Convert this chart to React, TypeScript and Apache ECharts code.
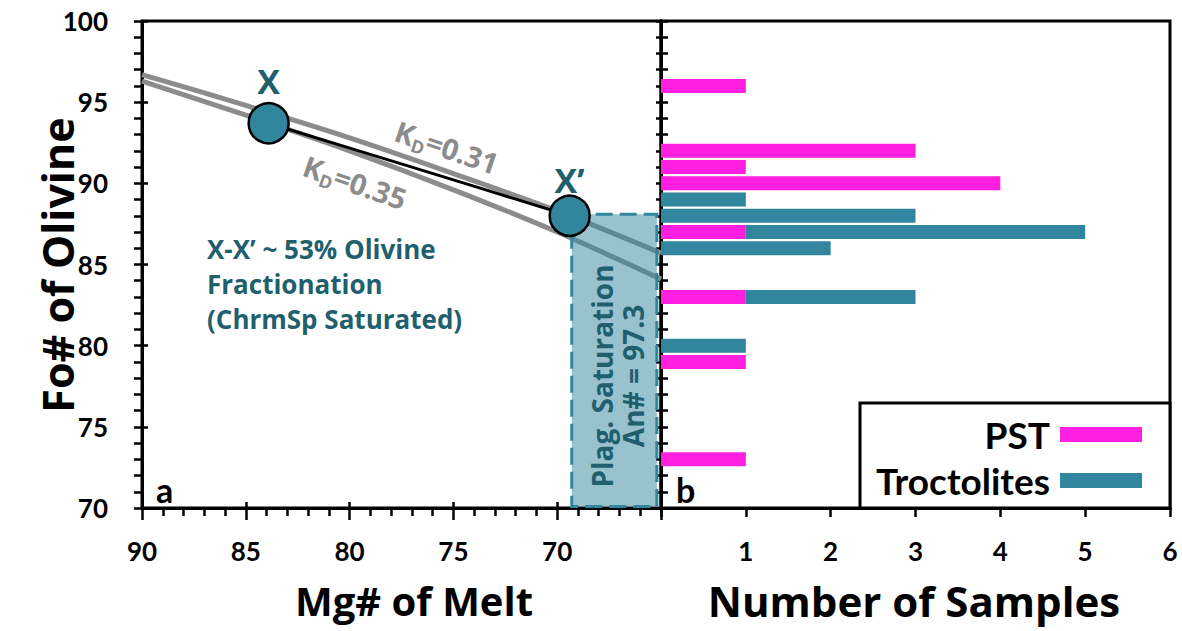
import React, { useEffect, useRef } from "react";
import * as echarts from "echarts";

// ---- data ----
const kd031Mg = [90, 85, 80, 75, 70, 65];
const kd031Fo = [96.7, 94.8, 92.8, 90.6, 88.3, 85.7];
const kd035Mg = [90, 85, 80, 75, 70, 65];
const kd035Fo = [96.3, 94.2, 92.0, 89.6, 87.0, 84.1];

const pathMg = [83.9, 77.0, 69.4];
const pathFo = [93.7, 91.0, 88.0];

const pointNames = ["X", "X\u2019"];
const pointMg = [83.9, 69.4];
const pointFo = [93.7, 88.0];

const plagMg = [69.3, 65.2];
const plagFo = [88.1, 70.1];

const foCategories = [
  "70", "71", "72", "73", "74", "75", "76", "77", "78", "79", "80",
  "81", "82", "83", "84", "85", "86", "87", "88", "89", "90",
  "91", "92", "93", "94", "95", "96", "97", "98", "99", "100",
];
const pstBins = [96, 92, 91, 90, 87, 83, 79, 73];
const pstCounts = [1, 3, 1, 4, 1, 1, 1, 1];
const trocBins = [89, 88, 87, 86, 83, 80];
const trocCounts = [1, 3, 4, 2, 2, 1];

const PINK = "#FF1FE0";
const TEAL = "#31859C";
const DARK_TEAL = "#1F5F6E";
const GREY = "#8C8C8C";

const TICK_FONT = "Lato";
const TITLE_FONT = "Open Sans";

function toCounts(bins: number[], counts: number[]) {
  return foCategories.map((c) => {
    const i = bins.indexOf(Number(c));
    return i >= 0 ? counts[i] : "-";
  });
}

export default function App() {
  const ref = useRef<HTMLDivElement>(null);

  useEffect(() => {
    if (!ref.current) return;
    const chart = echarts.init(ref.current, null, { renderer: "svg" });

    const axisLineStyle = { color: "#000", width: 3 };
    const tickStyle = { color: "#000", width: 2.5 };
    const labelStyle = {
      fontFamily: TICK_FONT,
      fontWeight: "bold" as const,
      fontSize: 26,
      color: "#000",
    };
    const kdRich = {
      k: { fontFamily: TITLE_FONT, fontWeight: "bold", fontSize: 29, fill: GREY, lineHeight: 36 },
      d: { fontFamily: TITLE_FONT, fontWeight: "bold", fontSize: 18, fill: GREY, lineHeight: 18, verticalAlign: "bottom" },
    };

    const option: any = {
      animation: false,
      backgroundColor: "#fff",
      grid: [
        { left: 142, top: 21, width: 519, height: 487, show: true, borderColor: "#000", borderWidth: 3 },
        { left: 661, top: 21, width: 509, height: 487, show: true, borderColor: "#000", borderWidth: 3 },
      ],
      xAxis: [
        {
          gridIndex: 0, type: "value", min: 65, max: 90, interval: 5, inverse: true,
          position: "bottom",
          axisLine: { show: true, lineStyle: axisLineStyle },
          axisTick: { show: true, length: 12, lineStyle: tickStyle },
          minorTick: { show: true, splitNumber: 5, length: 8, lineStyle: tickStyle },
          splitLine: { show: false },
          axisLabel: { ...labelStyle, margin: 30, formatter: (v: number) => (v === 65 ? "" : String(v)) },
        },
        {
          gridIndex: 0, type: "value", min: 65, max: 90, interval: 5, inverse: true,
          position: "bottom",
          axisLine: { show: false },
          axisTick: { show: true, inside: true, length: 6, lineStyle: tickStyle },
          splitLine: { show: false },
          axisLabel: { show: false },
        },
        {
          gridIndex: 1, type: "value", min: 0, max: 6, interval: 1,
          position: "bottom",
          axisLine: { show: true, lineStyle: axisLineStyle },
          axisTick: { show: true, length: 9, lineStyle: tickStyle },
          splitLine: { show: false },
          axisLabel: { ...labelStyle, margin: 30, formatter: (v: number) => (v === 0 ? "" : String(v)) },
        },
      ],
      yAxis: [
        {
          gridIndex: 0, type: "value", min: 70, max: 100, interval: 5, position: "left",
          axisLine: { show: true, lineStyle: axisLineStyle },
          axisTick: { show: true, length: 8, lineStyle: tickStyle },
          minorTick: { show: true, splitNumber: 5, length: 8, lineStyle: tickStyle },
          splitLine: { show: false },
          axisLabel: { ...labelStyle, margin: 34 },
        },
        {
          gridIndex: 0, type: "value", min: 70, max: 100, interval: 5, position: "left",
          axisLine: { show: false },
          axisTick: { show: true, inside: true, length: 6, lineStyle: tickStyle },
          splitLine: { show: false },
          axisLabel: { show: false },
        },
        {
          gridIndex: 1, type: "value", min: 70, max: 100, interval: 5, position: "left",
          axisLine: { show: true, lineStyle: axisLineStyle },
          axisTick: { show: true, inside: true, length: 7, lineStyle: tickStyle },
          minorTick: { show: true, splitNumber: 5, length: 7, lineStyle: tickStyle },
          splitLine: { show: false },
          axisLabel: { show: false },
        },
        {
          gridIndex: 1, type: "value", min: 70, max: 100, interval: 5, position: "left",
          axisLine: { show: false },
          axisTick: { show: true, inside: false, length: 5, lineStyle: tickStyle },
          minorTick: { show: true, splitNumber: 5, length: 5, lineStyle: tickStyle },
          splitLine: { show: false },
          axisLabel: { show: false },
        },
        {
          gridIndex: 1, type: "category", data: foCategories, boundaryGap: false, show: false,
        },
      ],
      series: [
        {
          name: "KD=0.31", type: "line", xAxisIndex: 0, yAxisIndex: 0, z: 2, silent: true,
          data: kd031Mg.map((m, i) => [m, kd031Fo[i]]),
          smooth: 0.3, symbol: "none",
          lineStyle: { color: GREY, width: 5 },
        },
        {
          name: "KD=0.35", type: "line", xAxisIndex: 0, yAxisIndex: 0, z: 2, silent: true,
          data: kd035Mg.map((m, i) => [m, kd035Fo[i]]),
          smooth: 0.3, symbol: "none",
          lineStyle: { color: GREY, width: 5 },
        },
        {
          name: "Plag. Saturation", type: "custom", xAxisIndex: 0, yAxisIndex: 0, z: 3, silent: true,
          clip: false,
          data: [[plagMg[0], plagFo[0], plagMg[1], plagFo[1]]],
          renderItem: (_p: any, api: any) => {
            const a = api.coord([api.value(0), api.value(1)]);
            const b = api.coord([api.value(2), api.value(3)]);
            return {
              type: "rect",
              shape: {
                x: Math.min(a[0], b[0]), y: Math.min(a[1], b[1]),
                width: Math.abs(b[0] - a[0]), height: Math.abs(b[1] - a[1]),
              },
              style: { fill: "rgba(49,133,156,0.5)", stroke: TEAL, lineWidth: 3, lineDash: [17, 7] },
            };
          },
        },
        {
          name: "X-X\u2019", type: "line", xAxisIndex: 0, yAxisIndex: 0, z: 4, silent: true,
          data: pathMg.map((m, i) => [m, pathFo[i]]),
          smooth: 0.3, symbol: "none",
          lineStyle: { color: "#000", width: 3 },
        },
        {
          name: "Points", type: "scatter", xAxisIndex: 0, yAxisIndex: 0, z: 5, silent: true,
          symbolSize: 40,
          itemStyle: { color: TEAL, borderColor: "#000", borderWidth: 2.5, opacity: 1 },
          label: {
            show: true, position: "top", formatter: "{b}",
            fontFamily: TITLE_FONT, fontWeight: "bold", fontSize: 34, color: DARK_TEAL,
          },
          data: pointNames.map((n, i) => ({
            name: n,
            value: [pointMg[i], pointFo[i]],
            label: { distance: i === 0 ? 4 : -2 },
          })),
        },
        {
          name: "PST", type: "bar", xAxisIndex: 2, yAxisIndex: 4, stack: "n", barWidth: 14,
          itemStyle: { color: PINK }, data: toCounts(pstBins, pstCounts), silent: true,
        },
        {
          name: "Troctolites", type: "bar", xAxisIndex: 2, yAxisIndex: 4, stack: "n", barWidth: 14,
          itemStyle: { color: TEAL }, data: toCounts(trocBins, trocCounts), silent: true,
        },
      ],
      graphic: [
        {
          type: "text", x: 57, y: 265, rotation: Math.PI / 2, z: 10,
          style: {
            text: "Fo# of Olivine", x: 0, y: 0, align: "center", verticalAlign: "middle",
            fontFamily: TITLE_FONT, fontWeight: "bold", fontSize: 43, fill: "#000",
          },
        },
        {
          type: "text", x: 414, y: 600, z: 10,
          style: {
            text: "Mg# of Melt", align: "center", verticalAlign: "middle",
            fontFamily: TITLE_FONT, fontWeight: "bold", fontSize: 40, fill: "#000",
          },
        },
        {
          type: "text", x: 914, y: 600, z: 10,
          style: {
            text: "Number of Samples", align: "center", verticalAlign: "middle",
            fontFamily: TITLE_FONT, fontWeight: "bold", fontSize: 42, fill: "#000",
          },
        },
        {
          type: "text", x: 156, y: 489, z: 10,
          style: { text: "a", verticalAlign: "middle", fontFamily: TICK_FONT, fontWeight: "bold", fontSize: 34, fill: "#000" },
        },
        {
          type: "text", x: 676, y: 489, z: 10,
          style: { text: "b", verticalAlign: "middle", fontFamily: TICK_FONT, fontWeight: "bold", fontSize: 34, fill: "#000" },
        },
        {
          type: "text", x: 207, y: 231, z: 10,
          style: {
            text: "X-X\u2019 ~ 53% Olivine\nFractionation\n(ChrmSp Saturated)",
            verticalAlign: "top", lineHeight: 35,
            fontFamily: TITLE_FONT, fontWeight: "bold", fontSize: 26, fill: DARK_TEAL,
          },
        },
        {
          type: "text", x: 447, y: 147, rotation: -0.33, z: 10,
          style: { text: "{k|K}{d|D}{k|=0.31}", align: "center", verticalAlign: "middle", rich: kdRich },
        },
        {
          type: "text", x: 355, y: 182, rotation: -0.335, z: 10,
          style: { text: "{k|K}{d|D}{k|=0.35}", align: "center", verticalAlign: "middle", rich: kdRich },
        },
        {
          type: "text", x: 617, y: 376, rotation: Math.PI / 2, z: 10,
          style: {
            text: "Plag. Saturation\nAn# = 97.3", align: "center", verticalAlign: "middle", lineHeight: 31,
            fontFamily: TITLE_FONT, fontWeight: "bold", fontSize: 28, fill: DARK_TEAL,
          },
        },
        {
          type: "rect", z: 10,
          shape: { x: 860, y: 403, width: 310, height: 105 },
          style: { fill: "#fff", stroke: "#000", lineWidth: 3 },
        },
        {
          type: "text", x: 1050, y: 434, z: 11,
          style: { text: "PST", align: "right", verticalAlign: "middle", fontFamily: TICK_FONT, fontWeight: "bold", fontSize: 37, fill: "#000" },
        },
        {
          type: "text", x: 1050, y: 480, z: 11,
          style: { text: "Troctolites", align: "right", verticalAlign: "middle", fontFamily: TICK_FONT, fontWeight: "bold", fontSize: 37, fill: "#000" },
        },
        {
          type: "rect", z: 11,
          shape: { x: 1060, y: 427, width: 82, height: 15 },
          style: { fill: PINK },
        },
        {
          type: "rect", z: 11,
          shape: { x: 1060, y: 473, width: 82, height: 15 },
          style: { fill: TEAL },
        },
      ],
    };

    chart.setOption(option);
    return () => chart.dispose();
  }, []);

  return (
    <div
      ref={ref}
      style={{ position: "fixed", left: 0, top: 0, width: 1182, height: 631, background: "#fff" }}
    />
  );
}
